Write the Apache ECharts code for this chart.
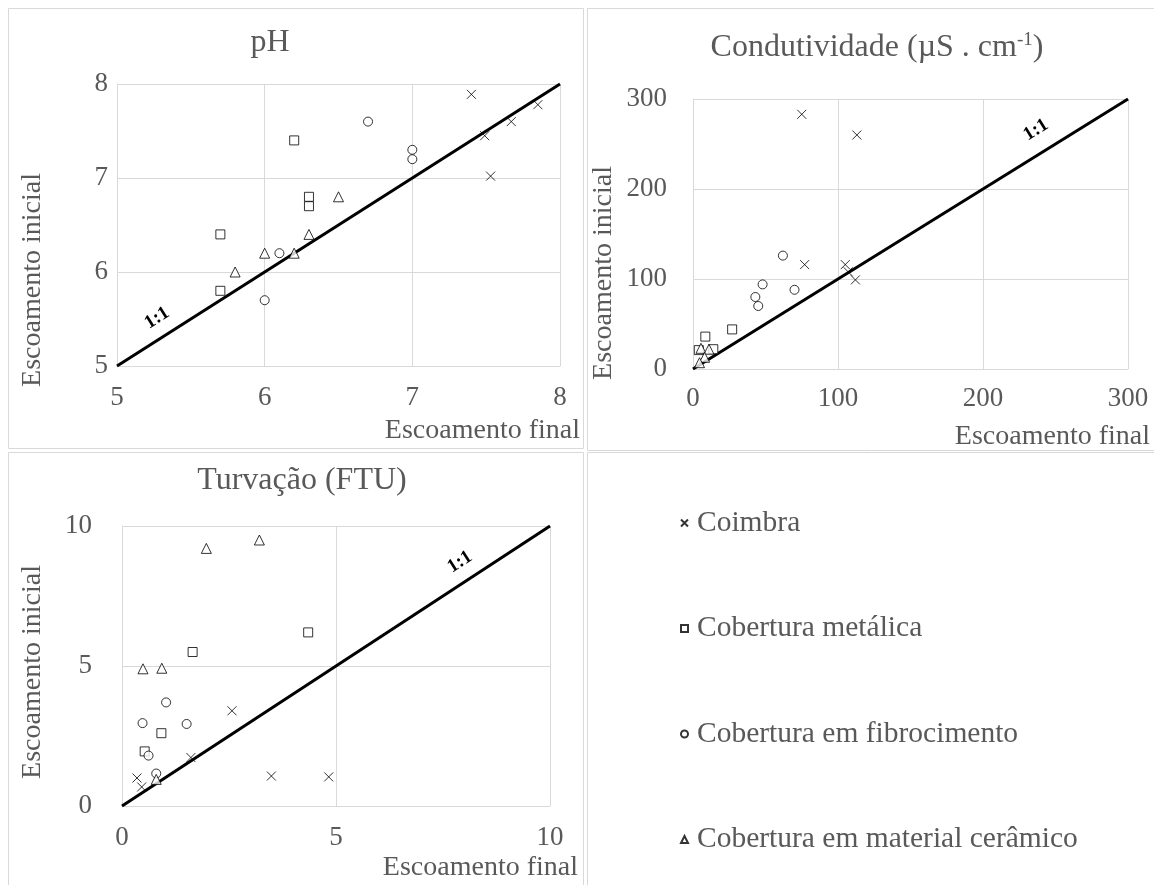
<!DOCTYPE html>
<html>
<head>
<meta charset="utf-8">
<script src="https://cdn.jsdelivr.net/npm/echarts@6/dist/echarts.min.js"></script>
<style>html,body{margin:0;padding:0;background:#fff}#c{width:1154px;height:885px}</style>
</head>
<body>
<div id="c"></div>
<script>
// ---- Data (x = Escoamento final, y = Escoamento inicial) ----
const seriesNames = ['Coimbra', 'Cobertura metálica', 'Cobertura em fibrocimento', 'Cobertura em material cerâmico'];

const phCoimbra = [[7.40,7.89],[7.85,7.78],[7.67,7.60],[7.49,7.45],[7.53,7.02]];
const phMetalica = [[6.2,7.4],[6.3,6.8],[6.3,6.7],[5.7,6.4],[5.7,5.8]];
const phFibro = [[6.7,7.6],[7.0,7.3],[7.0,7.2],[6.1,6.2],[6.0,5.7]];
const phCeramico = [[6.5,6.8],[6.3,6.4],[6.0,6.2],[6.2,6.2],[5.8,6.0]];

const condCoimbra = [[75,283],[113,260],[77,116],[105,116],[107,108],[112,99]];
const condMetalica = [[27,44],[8.5,36],[4,21],[14,22]];
const condFibro = [[62,126],[48,94],[70,88],[43,80],[45,70]];
const condCeramico = [[5.5,23],[11,22],[8,13],[4.5,7]];

const turbCoimbra = [[2.57,3.4],[1.61,1.73],[3.49,1.07],[4.83,1.04],[0.35,1.0],[0.46,0.68]];
const turbMetalica = [[4.35,6.2],[1.65,5.5],[0.92,2.6],[0.53,1.95]];
const turbFibro = [[1.03,3.7],[0.48,2.96],[1.51,2.93],[0.62,1.8],[0.8,1.16]];
const turbCeramico = [[1.97,9.2],[3.21,9.5],[0.49,4.9],[0.93,4.92],[0.8,0.95]];

const phTicks = {min:5, max:8, interval:1};
const condTicks = {min:0, max:300, interval:100};
const turbTicks = {min:0, max:10, interval:5};

const panelTitles = ['pH', 'Condutividade (µS . cm{sup|-1})', 'Turvação (FTU)'];
const xTitle = 'Escoamento final';
const yTitle = 'Escoamento inicial';
const oneToOne = '1:1';

// ---- Styles ----
const FONT = 'Liberation Serif';
const GRAY = '#595959';
const GRID_C = '#d9d9d9';

const crossPath = 'path://M0,0L10,10M10,0L0,10';
const symbols = [crossPath, 'rect', 'circle', 'triangle'];
const symSizes = [9, 9, 9, 10];

const grids = [
  {left:117, top:84, width:443, height:282},
  {left:693, top:99, width:435, height:270},
  {left:122, top:526, width:428, height:280}
];

function axis(t, gi, margin) {
  return {
    type:'value', gridIndex:gi, min:t.min, max:t.max, interval:t.interval,
    axisLine:{show:true, onZero:false, lineStyle:{color:GRID_C, width:1}},
    axisTick:{show:false},
    splitLine:{show:true, lineStyle:{color:GRID_C, width:1}},
    axisLabel:{fontFamily:FONT, fontSize:27, color:GRAY, margin:margin}
  };
}

const xAxes = [axis(phTicks,0,18), axis(condTicks,1,16), axis(turbTicks,2,18)];
const yAxes = [axis(phTicks,0,9), axis(condTicks,1,26), axis(turbTicks,2,30)];

const panelData = [
  [phCoimbra, phMetalica, phFibro, phCeramico],
  [condCoimbra, condMetalica, condFibro, condCeramico],
  [turbCoimbra, turbMetalica, turbFibro, turbCeramico]
];
const lineEnds = [[phTicks.min, phTicks.max],[condTicks.min, condTicks.max],[turbTicks.min, turbTicks.max]];

const series = [];
for (let g = 0; g < 3; g++) {
  series.push({
    type:'line', name:oneToOne, xAxisIndex:g, yAxisIndex:g,
    data:[[lineEnds[g][0], lineEnds[g][0]],[lineEnds[g][1], lineEnds[g][1]]],
    symbol:'none', lineStyle:{color:'#000', width:3}, silent:true, z:3, clip:false
  });
  for (let s = 0; s < 4; s++) {
    series.push({
      type:'scatter', name:seriesNames[s], xAxisIndex:g, yAxisIndex:g,
      data:panelData[g][s], symbol:symbols[s], symbolSize:symSizes[s],
      itemStyle:{color: s === 0 ? 'rgba(0,0,0,0)' : '#fff', borderColor:'#000', borderWidth:1},
      z:4
    });
  }
}

function txt(text, x, y, opts) {
  return Object.assign({
    type:'text', x:x, y:y, z:10,
    style:Object.assign({text:text, font:'28px "' + FONT + '"', fill:GRAY, align:'center', verticalAlign:'middle'}, opts && opts.style)
  }, opts && opts.el);
}

const graphics = [
  {type:'rect', shape:{x:8.5, y:8.5, width:575, height:440}, style:{fill:'none', stroke:GRID_C, lineWidth:1}, z:0},
  {type:'rect', shape:{x:587.5, y:8.5, width:580, height:442}, style:{fill:'none', stroke:GRID_C, lineWidth:1}, z:0},
  {type:'rect', shape:{x:8.5, y:452.5, width:575, height:440}, style:{fill:'none', stroke:GRID_C, lineWidth:1}, z:0},
  {type:'rect', shape:{x:587.5, y:452.5, width:580, height:440}, style:{fill:'none', stroke:GRID_C, lineWidth:1}, z:0},
  // axis titles
  txt(xTitle, 580, 431, {style:{align:'right'}}),
  txt(xTitle, 1150, 437, {style:{align:'right'}}),
  txt(xTitle, 578, 868, {style:{align:'right'}}),
  txt(yTitle, 33, 280, {el:{rotation:Math.PI/2}}),
  txt(yTitle, 604, 273, {el:{rotation:Math.PI/2}}),
  txt(yTitle, 33, 672, {el:{rotation:Math.PI/2}}),
  // 1:1 labels
  txt(oneToOne, 157, 318, {el:{rotation:0.565}, style:{font:'bold 19px "' + FONT + '"', fill:'#000'}}),
  txt(oneToOne, 1036, 130, {el:{rotation:0.555}, style:{font:'bold 19px "' + FONT + '"', fill:'#000'}}),
  txt(oneToOne, 460, 562, {el:{rotation:0.579}, style:{font:'bold 19px "' + FONT + '"', fill:'#000'}})
];

const titleStyle = {fontFamily:FONT, fontSize:32, fontWeight:'normal', color:GRAY,
  rich:{sup:{fontFamily:FONT, fontSize:19, color:GRAY, verticalAlign:'top', padding:[0,0,14,0]}}};

const option = {
  animation:false,
  backgroundColor:'#fff',
  title:[
    {text:panelTitles[0], left:265, top:22, textAlign:'center', textStyle:titleStyle},
    {text:panelTitles[1], left:872, top:26, textAlign:'center', textStyle:titleStyle},
    {text:panelTitles[2], left:297, top:460, textAlign:'center', textStyle:titleStyle}
  ],
  grid:grids,
  xAxis:xAxes,
  yAxis:yAxes,
  legend:{
    data:seriesNames, orient:'vertical', left:675, top:503,
    itemWidth:7, itemHeight:7, itemGap:75.5,
    textStyle:{fontFamily:FONT, fontSize:29.5, color:GRAY, lineHeight:26, padding:[0,0,0,4]},
    selectedMode:false
  },
  graphic:graphics,
  series:series
};

const chart = echarts.init(document.getElementById('c'), null, {renderer:'canvas'});
chart.setOption(option);
</script>
</body>
</html>
